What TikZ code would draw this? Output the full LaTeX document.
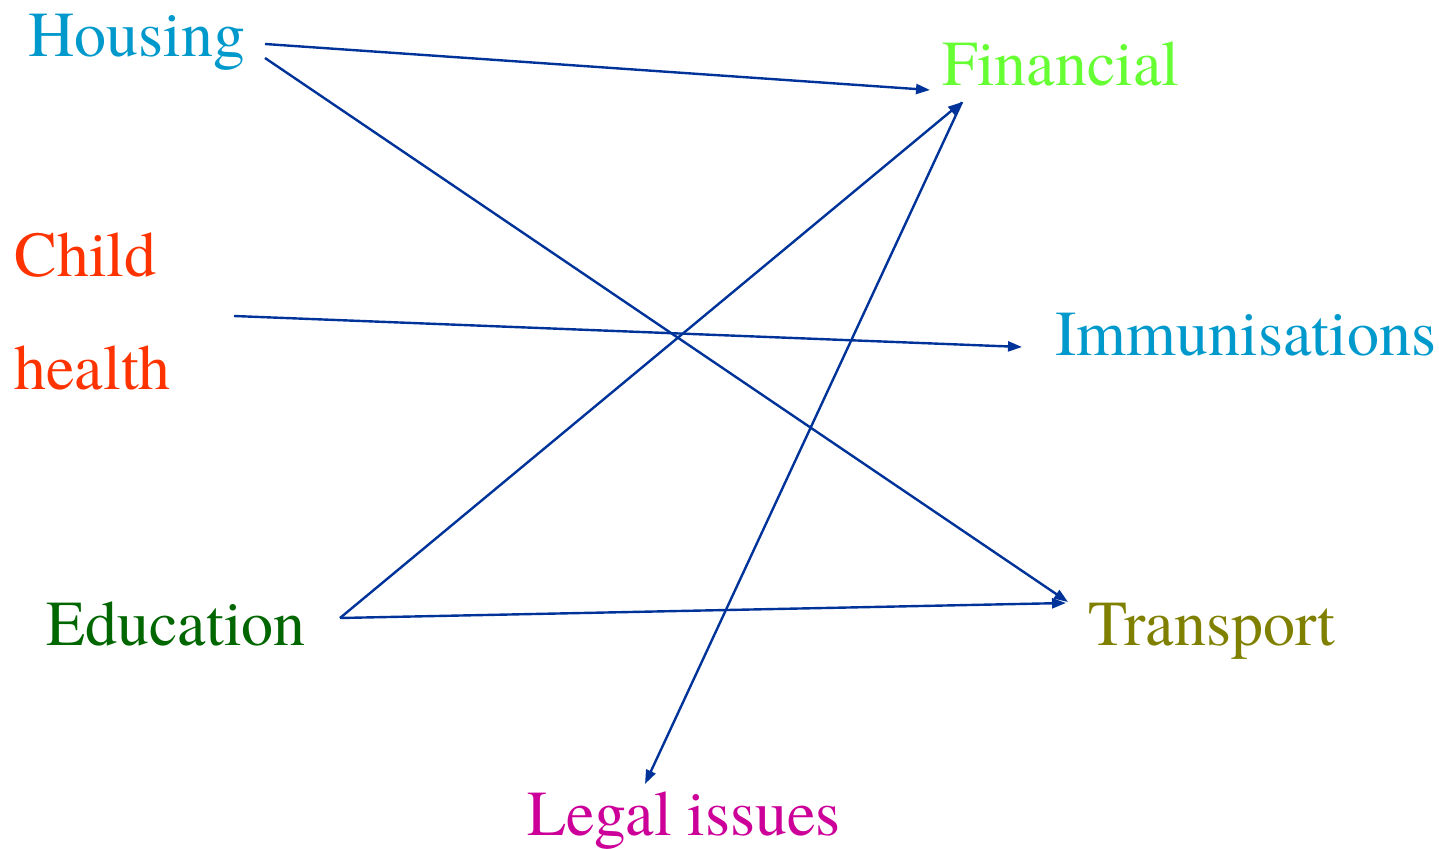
\documentclass[tikz,border=0pt]{standalone}
\usepackage{fontspec}
\setmainfont{TeX Gyre Termes}
\usepackage{tikz}
\usetikzlibrary{arrows.meta}
\definecolor{housingc}{RGB}{0,153,204}
\definecolor{childc}{RGB}{255,51,0}
\definecolor{financec}{RGB}{102,255,51}
\definecolor{educc}{RGB}{0,102,0}
\definecolor{transc}{RGB}{128,128,0}
\definecolor{legalc}{RGB}{204,0,153}
\definecolor{linkc}{RGB}{0,51,153}
\tikzset{topic/.style={anchor=base west, inner sep=0pt, font=\fontsize{32}{36}\selectfont},
         link/.style={draw=linkc, line width=1.2pt, -{Triangle[length=7pt,width=5pt]}}}
\newcommand{\topicnode}[5]{\node[topic, text=#4] (#1) at ( #2 , #3 ) {#5};}
\begin{document}
\begin{tikzpicture}[x=0.5pt,y=-0.5pt]
        \useasboundingbox (0,0) rectangle (1439,849);

        % left column
        \topicnode{housing}{28}{57}{housingc}{Housing}
        \topicnode{child}{14}{277}{childc}{Child}
        \topicnode{health}{14}{390}{childc}{health}
        \topicnode{education}{46}{645}{educc}{Education}

        % right column
        \topicnode{financial}{942}{86}{financec}{Financial}
        \topicnode{immun}{1055}{356}{housingc}{Immunisations}
        \topicnode{transport}{1088}{645}{transc}{Transport}
        \topicnode{legal}{527}{835}{legalc}{Legal issues}

        % ends
        \coordinate (h1) at (265,44);
        \coordinate (h2) at (265,58);
        \coordinate (c1) at (234,316);
        \coordinate (e1) at (340,618);
        \coordinate (f1) at (930,90);
        \coordinate (f2) at (962,102);
        \coordinate (i1) at (1022,347);
        \coordinate (t1) at (1068,602);
        \coordinate (t2) at (1066,603);
        \coordinate (l1) at (645,784);

        % links
        \draw[link] (h1) -- (f1);
        \draw[link] (h2) -- (t1);
        \draw[link] (c1) -- (i1);
        \draw[link] (e1) -- (f2);
        \draw[link] (e1) -- (t2);
        \draw[link] (f2) -- (l1);

    \end{tikzpicture}
\end{document}
